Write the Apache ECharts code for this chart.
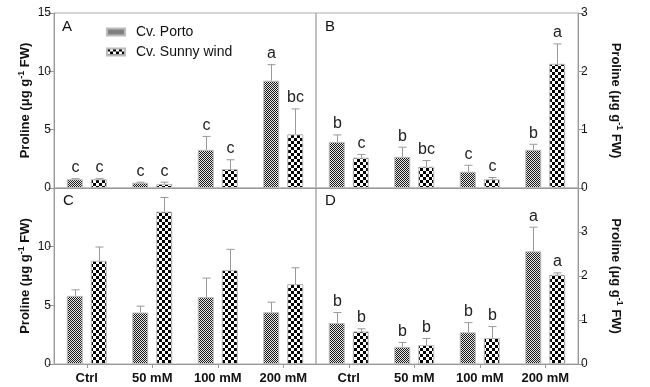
<!DOCTYPE html>
<html><head><meta charset="utf-8">
<script src="https://cdn.jsdelivr.net/npm/echarts@6/dist/echarts.min.js"></script>
<style>html,body{margin:0;padding:0;background:#fff}#c{width:650px;height:387px}</style>
</head><body><div id="c"></div>
<script>
const categories = ['Ctrl', '50 mM', '100 mM', '200 mM'];
// Panel A
const portoA = [0.75, 0.45, 3.27, 9.2];
const portoAErr = [0.05, 0.05, 1.15, 1.37];
const sunnyA = [0.75, 0.35, 1.62, 4.6];
const sunnyAErr = [0.05, 0.15, 0.8, 2.18];
const portoALetters = ['c', 'c', 'c', 'a'];
const sunnyALetters = ['c', 'c', 'c', 'bc'];
// Panel B
const portoB = [0.79, 0.535, 0.28, 0.655];
const portoBErr = [0.12, 0.165, 0.11, 0.095];
const sunnyB = [0.52, 0.365, 0.15, 2.13];
const sunnyBErr = [0.055, 0.105, 0.03, 0.34];
const portoBLetters = ['b', 'b', 'c', 'b'];
const sunnyBLetters = ['c', 'bc', 'c', 'a'];
// Panel C
const portoC = [5.81, 4.39, 5.7, 4.41];
const portoCErr = [0.51, 0.54, 1.62, 0.86];
const sunnyC = [8.8, 12.99, 8.0, 6.81];
const sunnyCErr = [1.17, 1.2, 1.77, 1.39];
// Panel D
const portoD = [0.93, 0.39, 0.72, 2.56];
const portoDErr = [0.24, 0.1, 0.22, 0.55];
const sunnyD = [0.74, 0.43, 0.59, 2.03];
const sunnyDErr = [0.06, 0.15, 0.26, 0.04];
const portoDLetters = ['b', 'b', 'b', 'a'];
const sunnyDLetters = ['b', 'b', 'b', 'a'];
// axis ticks
const yTicksLeft = {min: 0, max: 15, interval: 5};
const yTicksB = {min: 0, max: 3, interval: 1};
const yTicksD = {min: 0, max: 4, interval: 1};
const seriesNames = ['Cv. Porto', 'Cv. Sunny wind'];
const panelLetters = ['A', 'B', 'C', 'D'];

const FONT = '"Liberation Sans", Arial, sans-serif';
function makePattern(cell, dark, light) {
  const c = document.createElement('canvas');
  c.width = c.height = cell * 2;
  const g = c.getContext('2d');
  g.fillStyle = light; g.fillRect(0, 0, cell * 2, cell * 2);
  g.fillStyle = dark; g.fillRect(0, 0, cell, cell); g.fillRect(cell, cell, cell, cell);
  return c;
}
const portoFill = {image: makePattern(1, '#1a1a1a', '#e6e6e6'), repeat: 'repeat'};
const sunnyFill = {image: makePattern(3, '#000', '#fff'), repeat: 'repeat'};

const grids = [
  {left: 54, top: 13, width: 262, height: 175},
  {left: 316, top: 13, width: 262, height: 175},
  {left: 54, top: 188, width: 262, height: 176},
  {left: 316, top: 188, width: 262, height: 176}
].map(g => Object.assign(g, {show: true, borderColor: '#aaa', borderWidth: 1, containLabel: false}));

const AX = '#999';
const xAxes = [0, 1, 2, 3].map(i => ({
  type: 'category', gridIndex: i, data: categories,
  axisLine: {show: true, lineStyle: {color: AX}},
  axisTick: {show: i >= 2, alignWithLabel: true, length: 4, lineStyle: {color: AX}},
  axisLabel: {show: i >= 2, fontSize: 13, fontWeight: 'bold', color: '#111', fontFamily: FONT, margin: 8}
}));

const nameText = 'Proline (μg g{sup|-1} FW)';
function nameStyle() {
  return {fontSize: 13, fontWeight: 'bold', color: '#111', fontFamily: FONT,
    rich: {sup: {fontSize: 9, fontWeight: 'bold', color: '#111', fontFamily: FONT, padding: [0, 0, 7, 0]}}};
}
function yAxis(i, ticks, right, hideMax) {
  return Object.assign({
    type: 'value', gridIndex: i, position: right ? 'right' : 'left',
    axisLine: {show: true, lineStyle: {color: AX}},
    axisTick: {show: true, length: 6, lineStyle: {color: AX}},
    axisLabel: {fontSize: 12, color: '#111', fontFamily: FONT, margin: 3, showMaxLabel: !hideMax},
    splitLine: {show: false},
    name: nameText, nameLocation: 'middle', nameRotate: right ? -90 : 90,
    nameGap: right ? 30 : 21, nameTextStyle: nameStyle()
  }, ticks);
}
const yAxes = [
  yAxis(0, yTicksLeft, false, false),
  yAxis(1, yTicksB, true, false),
  yAxis(2, yTicksLeft, false, true),
  yAxis(3, yTicksD, true, true)
];

const panels = [
  [portoA, portoAErr, sunnyA, sunnyAErr, portoALetters, sunnyALetters],
  [portoB, portoBErr, sunnyB, sunnyBErr, portoBLetters, sunnyBLetters],
  [portoC, portoCErr, sunnyC, sunnyCErr, null, null],
  [portoD, portoDErr, sunnyD, sunnyDErr, portoDLetters, sunnyDLetters]
];

function errRender(offset, letters) {
  return function (params, api) {
    const idx = api.value(0);
    const base = api.coord([idx, api.value(1)]);
    const top = api.coord([idx, api.value(2)]);
    const x = Math.round(base[0] + offset) + 0.5;
    const children = [
      {type: 'line', shape: {x1: x, y1: base[1], x2: x, y2: top[1]}, style: {stroke: '#999', lineWidth: 1}},
      {type: 'line', shape: {x1: x - 4, y1: top[1], x2: x + 4, y2: top[1]}, style: {stroke: '#999', lineWidth: 1}}
    ];
    if (letters) {
      children.push({type: 'text', style: {text: letters[params.dataIndex], x: x, y: top[1] - 3,
        align: 'center', verticalAlign: 'bottom', fontSize: 16, fill: '#222', fontFamily: FONT}});
    }
    return {type: 'group', children};
  };
}

const series = [];
panels.forEach((p, i) => {
  const [pm, pe, sm, se, pl, sl] = p;
  series.push({type: 'bar', name: seriesNames[0], xAxisIndex: i, yAxisIndex: i, data: pm,
    barWidth: 16, barGap: '50%', itemStyle: {color: portoFill, borderColor: '#bbb', borderWidth: 1}, silent: true});
  series.push({type: 'bar', name: seriesNames[1], xAxisIndex: i, yAxisIndex: i, data: sm,
    barWidth: 16, barGap: '50%', itemStyle: {color: sunnyFill, borderColor: '#bbb', borderWidth: 1}, silent: true});
  series.push({type: 'custom', xAxisIndex: i, yAxisIndex: i, silent: true, z: 5,
    data: pm.map((m, k) => [k, m, m + pe[k]]), renderItem: errRender(-12, pl)});
  series.push({type: 'custom', xAxisIndex: i, yAxisIndex: i, silent: true, z: 5,
    data: sm.map((m, k) => [k, m, m + se[k]]), renderItem: errRender(12, sl)});
});

const letterPos = [[62, 19], [325, 19], [63, 193], [325, 193]];
const chart = echarts.init(document.getElementById('c'), null, {renderer: 'canvas'});
chart.setOption({
  animation: false,
  backgroundColor: '#fff',
  grid: grids, xAxis: xAxes, yAxis: yAxes, series,
  legend: {
    data: seriesNames, orient: 'vertical', left: 106, top: 25, padding: 0, itemWidth: 18, itemHeight: 7, itemGap: 6,
    icon: 'rect', selectedMode: false,
    textStyle: {fontSize: 14, color: '#111', fontFamily: FONT, padding: [0, 0, 0, 6]}
  },
  graphic: panelLetters.map((t, i) => ({type: 'text', left: letterPos[i][0], top: letterPos[i][1],
    style: {text: t, fontSize: 15, fill: '#111', fontFamily: FONT}}))
});
</script>
</body></html>
